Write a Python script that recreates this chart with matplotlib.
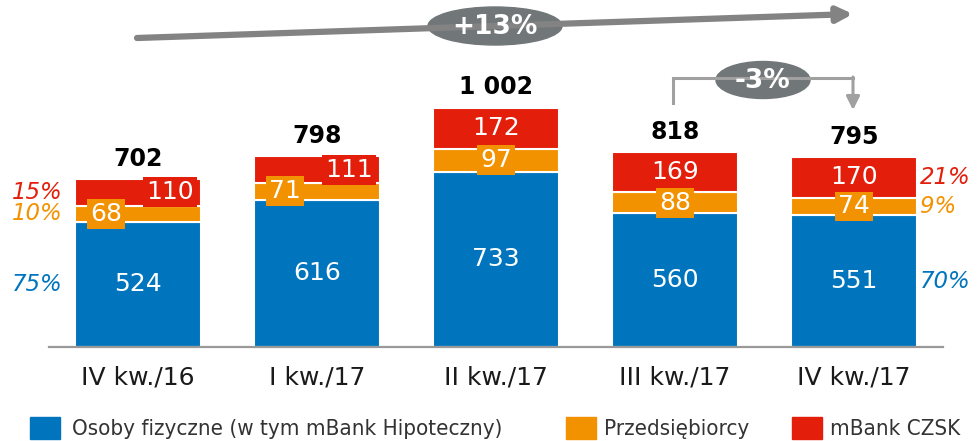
import numpy as np
import matplotlib
matplotlib.use("Agg")
import matplotlib.pyplot as plt
from matplotlib.patches import Ellipse, Rectangle

# Data
quarters = ["IV kw./16", "I kw./17", "II kw./17", "III kw./17", "IV kw./17"]
osoby = [524, 616, 733, 560, 551]
przeds = [68, 71, 97, 88, 74]
czsk = [110, 111, 172, 169, 170]
totals = ["702", "798", "1 002", "818", "795"]
pct_first = ["75%", "10%", "15%"]
pct_last = ["70%", "9%", "21%"]
legend_labels = ["Osoby fizyczne (w tym mBank Hipoteczny)", "Przedsiębiorcy", "mBank CZSK"]

BLUE = "#0075BE"
ORANGE = "#F39200"
RED = "#E31E0B"
GRAY_DARK = "#717678"

W, H = 978, 441
fig = plt.figure(figsize=(W / 100, H / 100), dpi=100)

# main axes: baseline at y=347px, full height above
base_px = 347
ax = fig.add_axes([0, (H - base_px) / H, 1, base_px / H])
scale = 0.239  # px per unit
ax.set_ylim(0, base_px / scale)
c0, step = 138, 179
ax.set_xlim(-c0 / step, (W - c0) / step)

x = np.arange(len(quarters))
bw = 126 / step
osoby = np.array(osoby)
przeds = np.array(przeds)
czsk = np.array(czsk)

ax.bar(x, osoby, bw, color=BLUE, edgecolor="white", linewidth=1.5)
ax.bar(x, przeds, bw, bottom=osoby, color=ORANGE, edgecolor="white", linewidth=1.5)
ax.bar(x, czsk, bw, bottom=osoby + przeds, color=RED, edgecolor="white", linewidth=1.5)

lab = dict(color="white", fontsize=18, ha="center", va="center")
for i in range(len(x)):
    ax.text(x[i], osoby[i] / 2, str(osoby[i]), **lab)
    # first two bars: orange and red labels pushed sideways
    dx = 0.18 if i < 2 else 0.0
    ax.text(x[i] - dx, osoby[i] + przeds[i] / 2, str(przeds[i]),
            bbox=dict(boxstyle="square,pad=0.12", fc=ORANGE, ec="none"), **lab)
    ax.text(x[i] + dx, osoby[i] + przeds[i] + czsk[i] / 2, str(czsk[i]),
            bbox=dict(boxstyle="square,pad=0.12", fc=RED, ec="none"), **lab)
    ax.annotate(totals[i], (x[i], osoby[i] + przeds[i] + czsk[i]),
                xytext=(0, 9.5), textcoords="offset points",
                ha="center", va="baseline", fontsize=17, fontweight="bold", color="black")

# share percentages
cols = [BLUE, ORANGE, RED]
mids0 = [osoby[0] / 2, osoby[0] + przeds[0] / 2, osoby[0] + przeds[0] + czsk[0] / 2]
midsN = [osoby[-1] / 2, osoby[-1] + przeds[-1] / 2, osoby[-1] + przeds[-1] + czsk[-1] / 2]
for t, y, c in zip(pct_first, mids0, cols):
    ax.text(x[0] - 0.42, y, t, color=c, fontsize=16.5, style="italic", ha="right", va="center")
for t, y, c in zip(pct_last, midsN, cols):
    ax.text(x[-1] + 0.37, y, t, color=c, fontsize=16.5, style="italic", ha="left", va="center")

ax.set_xticks(x)
ax.set_xticklabels(quarters, fontsize=18, color="#1a1a1a")
ax.tick_params(axis="x", length=0, pad=13)
ax.set_yticks([])
for s in ax.spines.values():
    s.set_visible(False)
ax.axhline(0, xmin=49 / W, xmax=943 / W, color="#999999", linewidth=1.6, clip_on=False)

# overlay in pixel coordinates for arrows and legend
ov = fig.add_axes([0, 0, 1, 1], zorder=5)
ov.set_xlim(0, W)
ov.set_ylim(H, 0)
ov.axis("off")

# +13% arrow
ov.annotate("", xy=(853, 14), xytext=(137, 38),
            arrowprops=dict(arrowstyle="-|>,head_length=0.9,head_width=0.45",
                            color="#838383", lw=4.5, shrinkA=0, shrinkB=0))
ov.add_patch(Ellipse((495, 26), 134, 38, color=GRAY_DARK))
ov.text(495, 27, "+13%", color="white", fontsize=19, fontweight="bold", ha="center", va="center")

# -3% bracket
ov.plot([673, 673, 853], [103, 78, 78], color="#a0a0a0", lw=2.2, solid_joinstyle="miter")
ov.annotate("", xy=(853, 110), xytext=(853, 77),
            arrowprops=dict(arrowstyle="-|>,head_length=0.8,head_width=0.4",
                            color="#a0a0a0", lw=2.2, shrinkA=0, shrinkB=0))
ov.add_patch(Ellipse((763, 80), 94, 37, color=GRAY_DARK))
ov.text(763, 81, "-3%", color="white", fontsize=19, fontweight="bold", ha="center", va="center")

# legend
leg_y = 428
for (sx, tx), c, t in zip([(30, 72), (566, 604), (792, 830)], cols, legend_labels):
    ov.add_patch(Rectangle((sx, leg_y - 11), 30, 22, color=c))
    ov.text(tx, leg_y + 1, t, fontsize=16, color="#333333", ha="left", va="center",
            fontstretch="condensed")

fig.savefig("out.png", dpi=100)
